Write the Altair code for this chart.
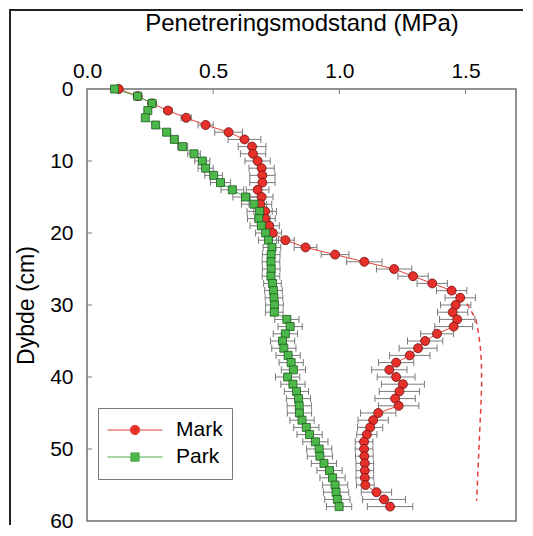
import altair as alt
import pandas as pd

# ---------------- data ----------------
depth = list(range(59))  # cm

mark_mpa = [0.126, 0.201, 0.258, 0.321, 0.393, 0.470, 0.561, 0.624, 0.654, 0.658,
            0.676, 0.692, 0.695, 0.695, 0.676, 0.692, 0.687, 0.706, 0.706, 0.722,
            0.736, 0.786, 0.866, 0.983, 1.099, 1.217, 1.292, 1.368, 1.445, 1.479,
            1.461, 1.449, 1.467, 1.453, 1.387, 1.340, 1.312, 1.279, 1.225, 1.198,
            1.225, 1.252, 1.238, 1.221, 1.235, 1.154, 1.134, 1.122, 1.109, 1.098,
            1.098, 1.099, 1.101, 1.101, 1.101, 1.103, 1.147, 1.177, 1.201]
mark_err = [0.005, 0.01, 0.01, 0.015, 0.02, 0.03, 0.055, 0.065, 0.055, 0.05,
            0.05, 0.05, 0.05, 0.05, 0.045, 0.045, 0.045, 0.045, 0.04, 0.04,
            0.035, 0.035, 0.045, 0.055, 0.07, 0.07, 0.06, 0.06, 0.06, 0.06,
            0.06, 0.06, 0.07, 0.075, 0.065, 0.07, 0.075, 0.08, 0.07, 0.07,
            0.075, 0.085, 0.08, 0.08, 0.08, 0.07, 0.06, 0.05, 0.04, 0.035,
            0.035, 0.035, 0.035, 0.035, 0.035, 0.035, 0.06, 0.085, 0.09]

park_mpa = [0.109, 0.201, 0.258, 0.241, 0.231, 0.272, 0.316, 0.346, 0.379, 0.424,
            0.457, 0.470, 0.502, 0.529, 0.576, 0.628, 0.662, 0.684, 0.681, 0.691,
            0.708, 0.719, 0.733, 0.730, 0.729, 0.730, 0.729, 0.735, 0.739, 0.741,
            0.743, 0.742, 0.792, 0.805, 0.786, 0.775, 0.780, 0.797, 0.809, 0.818,
            0.795, 0.816, 0.830, 0.838, 0.841, 0.842, 0.852, 0.869, 0.882, 0.905,
            0.920, 0.923, 0.939, 0.961, 0.973, 0.983, 0.987, 0.992, 0.999]
park_err = [0.005, 0.005, 0.008, 0.008, 0.01, 0.01, 0.015, 0.015, 0.02, 0.025,
            0.03, 0.03, 0.035, 0.04, 0.045, 0.05, 0.05, 0.05, 0.045, 0.045,
            0.04, 0.04, 0.035, 0.035, 0.035, 0.035, 0.035, 0.035, 0.035, 0.035,
            0.035, 0.035, 0.048, 0.048, 0.048, 0.048, 0.048, 0.048, 0.048, 0.048,
            0.048, 0.048, 0.048, 0.048, 0.048, 0.048, 0.048, 0.05, 0.05, 0.05,
            0.05, 0.05, 0.05, 0.05, 0.05, 0.05, 0.05, 0.05, 0.05]

dash_depth = [29.8, 31, 32, 34, 36, 38, 41, 44, 47, 50, 54, 57.2]
dash_mpa = [1.505, 1.525, 1.541, 1.552, 1.559, 1.563, 1.564, 1.561, 1.557, 1.553, 1.548, 1.544]

series_names = ["Mark", "Park"]
x_ticks = [0.0, 0.5, 1.0, 1.5]
y_ticks = [0, 10, 20, 30, 40, 50, 60]
x_inner_ticks = [0.5, 1.0, 1.5]
y_inner_ticks = [10, 20, 30, 40, 50]

# ---------------- tables ----------------
n = len(depth)
df = pd.DataFrame({
    "depth": depth + depth,
    "mpa": mark_mpa + park_mpa,
    "err": mark_err + park_err,
    "series": [series_names[0]] * n + [series_names[1]] * n,
})
dash_df = pd.DataFrame({"depth": dash_depth, "mpa": dash_mpa})
xt_df = pd.DataFrame({"mpa": x_inner_ticks, "depth": [0] * len(x_inner_ticks)})
yt_df = pd.DataFrame({"mpa": [0.0] * len(y_inner_ticks), "depth": y_inner_ticks})
one = pd.DataFrame({"k": [0]})

FONT = "Liberation Sans"
RED = "#e8302a"
RED_LINE = "#e4413a"
RED_EDGE = "#6a1010"
GREEN = "#4cb84a"
GREEN_LINE = "#4aa84a"
GREEN_EDGE = "#1f5a1f"
GREY = "#7a7a7a"

xs = alt.Scale(domain=[0, 1.7], nice=False, zero=False)
ys = alt.Scale(domain=[0, 60], reverse=True, nice=False, zero=False)

x_axis = alt.Axis(
    orient="top", values=x_ticks, format=".1f", title="Penetreringsmodstand (MPa)",
    labelFontSize=21, titleFontSize=24, labelPadding=8, titlePadding=25,
    labelFlush=False)
y_axis = alt.Axis(
    values=y_ticks, format="d", title="Dybde (cm)",
    labelFontSize=21, titleFontSize=23, labelPadding=14, titlePadding=11,
    labelFlush=False)


def X(field):
    return alt.X(field, scale=xs, axis=x_axis)


def Y():
    return alt.Y("depth:Q", scale=ys, axis=y_axis)


base = alt.Chart(df).transform_calculate(
    lo="datum.mpa - datum.err", hi="datum.mpa + datum.err")

err_rules = base.mark_rule(color=GREY, strokeWidth=1).encode(
    x=X("lo:Q"), x2="hi:Q", y=Y())
cap_lo = base.mark_tick(orient="vertical", size=7, thickness=1, color=GREY, opacity=1).encode(
    x=X("lo:Q"), y=Y())
cap_hi = base.mark_tick(orient="vertical", size=7, thickness=1, color=GREY, opacity=1).encode(
    x=X("hi:Q"), y=Y())

line_mark = base.transform_filter(alt.datum.series == series_names[0]).mark_line(
    color=RED_LINE, strokeWidth=1).encode(x=X("mpa:Q"), y=Y(), order="depth:Q")
line_park = base.transform_filter(alt.datum.series == series_names[1]).mark_line(
    color=GREEN_LINE, strokeWidth=1).encode(x=X("mpa:Q"), y=Y(), order="depth:Q")

dash_line = alt.Chart(dash_df).mark_line(
    color=RED_LINE, strokeWidth=1.5, strokeDash=[5, 4]).encode(
    x=X("mpa:Q"), y=Y(), order="depth:Q")

pts_mark = base.transform_filter(alt.datum.series == series_names[0]).mark_point(
    shape="circle", filled=True, size=81, fill=RED, stroke=RED_EDGE, strokeWidth=0.8,
    opacity=1).encode(x=X("mpa:Q"), y=Y())
pts_park = base.transform_filter(alt.datum.series == series_names[1]).mark_point(
    shape="square", filled=True, size=64, fill=GREEN, stroke=GREEN_EDGE, strokeWidth=0.8,
    opacity=1).encode(x=X("mpa:Q"), y=Y())

# legend: line with marker, through scales on an empty layer
path_mark = ("M-1,0H-0.17M0.17,0H1M0.17,0A0.17,0.17 0 1,1 -0.17,0"
             "A0.17,0.17 0 1,1 0.17,0Z")
path_park = "M-1,0H-0.15M0.15,0H1M-0.15,-0.15H0.15V0.15H-0.15Z"
leg = alt.Legend(title=None, orient="none", legendX=11, legendY=319,
                 direction="vertical", padding=9, strokeColor="#777",
                 fillColor="white", labelFont=FONT, labelFontSize=21,
                 labelColor="black", labelOffset=13, symbolSize=3025,
                 symbolStrokeWidth=1, clipHeight=26, rowPadding=1)
legend_layer = base.transform_filter("false").mark_point(
    filled=False, opacity=1, strokeWidth=1).encode(
    x=X("mpa:Q"), y=Y(),
    fill=alt.Fill("series:N", scale=alt.Scale(domain=series_names, range=[RED, GREEN]), legend=leg),
    stroke=alt.Stroke("series:N", scale=alt.Scale(domain=series_names, range=[RED_LINE, GREEN_LINE]), legend=leg),
    shape=alt.Shape("series:N", scale=alt.Scale(domain=series_names, range=[path_mark, path_park]), legend=leg),
)

# inward axis ticks
xt = alt.Chart(xt_df).mark_tick(orient="vertical", size=10, thickness=1, color=GREY,
                                opacity=1, clip=True).encode(x=X("mpa:Q"), y=Y())
yt = alt.Chart(yt_df).mark_tick(orient="horizontal", size=10, thickness=1, color=GREY,
                                opacity=1, clip=True).encode(x=X("mpa:Q"), y=Y())

# figure frame (left and top edges)
frame_left = alt.Chart(one).mark_rule(color="#222", strokeWidth=2, clip=False).encode(
    x=alt.value(-77), y=alt.value(-80), y2=alt.value(436))
frame_top = alt.Chart(one).mark_rule(color="#222", strokeWidth=2, clip=False).encode(
    x=alt.value(-78), x2=alt.value(436), y=alt.value(-79))

chart = alt.layer(
    err_rules, cap_lo, cap_hi, line_mark, line_park, dash_line,
    pts_mark, pts_park, legend_layer, xt, yt, frame_left, frame_top
).properties(
    width=429, height=432, padding=0, background="white"
).configure_view(
    stroke="#707070", strokeWidth=1.5
).configure_axis(
    labelFont=FONT, titleFont=FONT, grid=False, domain=False, ticks=False,
    tickSize=0, labelColor="black", titleColor="black", titleFontWeight="normal"
)

chart.save("out.html", embed_options={"renderer": "svg", "actions": False})
